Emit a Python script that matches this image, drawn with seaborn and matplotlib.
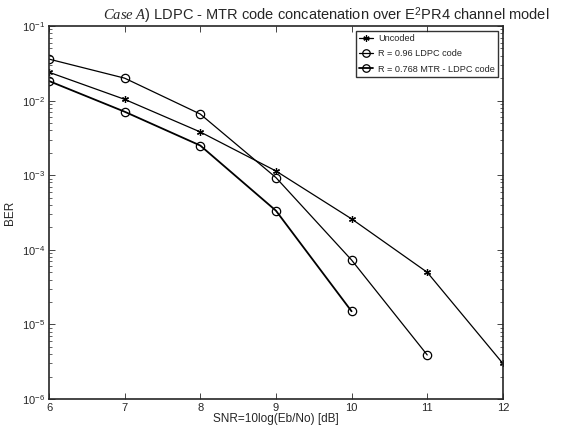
import numpy as np
import pandas as pd
import matplotlib
matplotlib.use('Agg')
import matplotlib.pyplot as plt
import seaborn as sns
from matplotlib.ticker import LogLocator, NullFormatter

sns.set_style('ticks')
plt.rcParams['font.family'] = ['Liberation Sans', 'DejaVu Sans']
plt.rcParams['mathtext.fontset'] = 'custom'
plt.rcParams['mathtext.rm'] = 'Liberation Sans'
plt.rcParams['mathtext.it'] = 'Liberation Serif:italic'
plt.rcParams['mathtext.bf'] = 'Liberation Sans:bold'

# values (BER vs SNR)
snr_uncoded = [6, 7, 8, 9, 10, 11, 12]
ber_uncoded = [0.024, 0.0104, 0.0038, 0.00114, 2.6e-4, 5.0e-5, 3.0e-6]
snr_ldpc = [6, 7, 8, 9, 10, 11]
ber_ldpc = [0.036, 0.020, 0.0066, 0.00093, 7.3e-5, 3.9e-6]
snr_mtr = [6, 7, 8, 9, 10]
ber_mtr = [0.0183, 0.0071, 0.0025, 3.35e-4, 1.5e-5]
labels = ['Uncoded', 'R = 0.96 LDPC code', 'R = 0.768 MTR - LDPC code']

df = pd.concat([
    pd.DataFrame({'snr': snr_uncoded, 'ber': ber_uncoded, 'code': labels[0]}),
    pd.DataFrame({'snr': snr_ldpc, 'ber': ber_ldpc, 'code': labels[1]}),
    pd.DataFrame({'snr': snr_mtr, 'ber': ber_mtr, 'code': labels[2]}),
])

fig = plt.figure(figsize=(5.8, 4.3), dpi=100)
ax = fig.add_axes([0.0845, 0.072, 0.7825, 0.8675])

# asterisk for uncoded, open circles for coded curves
styles = {labels[0]: ((6, 2, 0), 0.9, 5), labels[1]: ('o', 0.9, 6), labels[2]: ('o', 1.3, 6)}
for lab in labels:
    mk, lw, ms = styles[lab]
    sns.lineplot(data=df[df.code == lab], x='snr', y='ber', ax=ax, color='black',
                 marker=mk, markersize=ms,
                 markerfacecolor='none' if mk == 'o' else 'black',
                 markeredgecolor='black', markeredgewidth=0.9,
                 linewidth=lw, label=lab)

ax.set_yscale('log')
ax.set_xlim(6, 12)
ax.set_ylim(1e-6, 1e-1)
ax.set_xticks(range(6, 13))
ax.yaxis.set_major_locator(LogLocator(base=10, numticks=10))
ax.yaxis.set_minor_locator(LogLocator(base=10, subs=np.arange(2, 10), numticks=20))
ax.yaxis.set_minor_formatter(NullFormatter())
ax.tick_params(which='both', direction='in', top=True, right=True, labelsize=8)
ax.tick_params(which='major', length=4, width=0.6, pad=3)
ax.tick_params(which='minor', length=2, width=0.5)
for s in ax.spines.values():
    s.set_linewidth(1.2)
    s.set_visible(True)

ax.set_xlabel('SNR=10log(Eb/No) [dB]', fontsize=8.5, labelpad=0)
ax.set_ylabel('BER', fontsize=8.5, labelpad=4)
ax.set_title(r'$\mathit{Case\ A}$) LDPC - MTR code concatenation over E$^{2}$PR4 channel model',
             fontsize=10.5, x=0.61, pad=2)

leg = ax.legend(loc='upper right', fontsize=6.6, frameon=True, fancybox=False,
                edgecolor='black', borderpad=0.35, labelspacing=0.7,
                handlelength=1.5, handletextpad=0.6, borderaxespad=0.5,
                markerscale=0.9)
leg.get_frame().set_linewidth(1.0)

fig.savefig('out.png', dpi=100)
